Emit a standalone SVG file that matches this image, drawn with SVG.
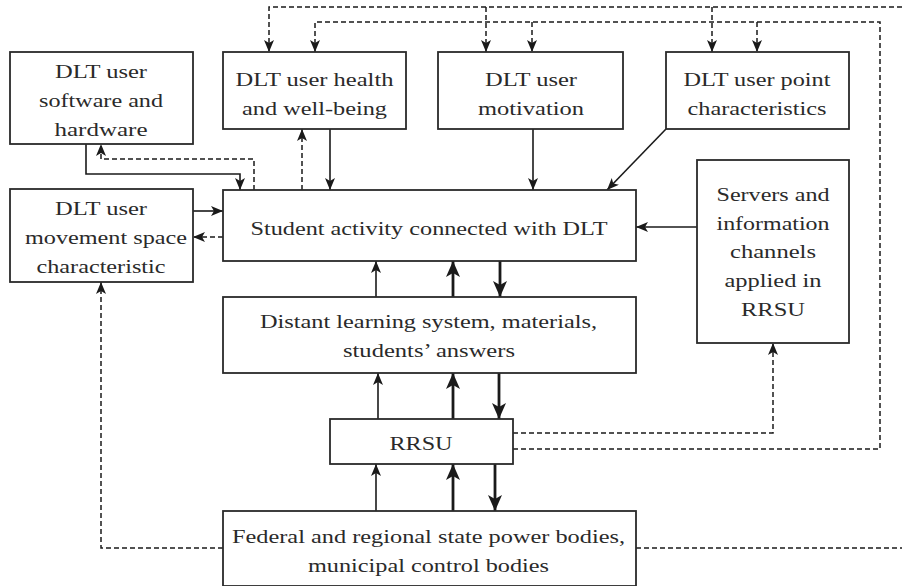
<svg xmlns="http://www.w3.org/2000/svg" width="902" height="586" viewBox="0 0 902 586">
<style>
.box{fill:#fff;stroke:#2a2a2a;stroke-width:1.8}
.t{font-family:"Liberation Serif","Times New Roman",serif;font-size:19px;fill:#2a2a2a;text-anchor:middle}
.c{fill:none;stroke:#1a1a1a;stroke-width:1.6}
.k{fill:none;stroke:#1a1a1a;stroke-width:2.8}
.d{fill:none;stroke:#1a1a1a;stroke-width:1.5;stroke-dasharray:5,3}
</style>
<defs>
<marker id="a" markerUnits="userSpaceOnUse" markerWidth="14" markerHeight="12" refX="12" refY="5" orient="auto" viewBox="0 0 14 12"><path d="M0,0 L12,5 L0,10 L3,5 z" fill="#1a1a1a"/></marker>
<marker id="b" markerUnits="userSpaceOnUse" markerWidth="18" markerHeight="16" refX="16" refY="7" orient="auto" viewBox="0 0 18 16"><path d="M0,0 L16,7 L0,14 L4,7 z" fill="#1a1a1a"/></marker>
</defs>
<g id="connectors">
<path class="c" d="M86,144 V174 H240 V190" marker-end="url(#a)"/>
<path class="c" d="M330,129 V190" marker-end="url(#a)"/>
<path class="c" d="M533,129 V190" marker-end="url(#a)"/>
<path class="c" d="M666,129 L607,190" marker-end="url(#a)"/>
<path class="c" d="M697,227 H636" marker-end="url(#a)"/>
<path class="c" d="M193,211 H223" marker-end="url(#a)"/>
<path class="c" d="M376,297 V261" marker-end="url(#a)"/>
<path class="c" d="M378,419 V373" marker-end="url(#a)"/>
<path class="c" d="M376,511 V464" marker-end="url(#a)"/>
<path class="k" d="M453,297 V261" marker-end="url(#b)"/>
<path class="k" d="M500,261 V297" marker-end="url(#b)"/>
<path class="k" d="M453,419 V373" marker-end="url(#b)"/>
<path class="k" d="M499,373 V419" marker-end="url(#b)"/>
<path class="k" d="M453,511 V464" marker-end="url(#b)"/>
<path class="k" d="M495,464 V511" marker-end="url(#b)"/>
<path class="d" d="M902,7 H269 V52" marker-end="url(#a)"/>
<path class="d" d="M486,7 V52" marker-end="url(#a)"/>
<path class="d" d="M712,7 V52" marker-end="url(#a)"/>
<path class="d" d="M513,449 H880 V22 H315 V52" marker-end="url(#a)"/>
<path class="d" d="M532,22 V52" marker-end="url(#a)"/>
<path class="d" d="M757,22 V52" marker-end="url(#a)"/>
<path class="d" d="M513,433 H773 V343" marker-end="url(#a)"/>
<path class="d" d="M223,548 H101 V282" marker-end="url(#a)"/>
<path class="d" d="M636,548 H902"/>
<path class="d" d="M254,190 V159 H101 V144" marker-end="url(#a)"/>
<path class="d" d="M302,190 V129" marker-end="url(#a)"/>
<path class="d" d="M223,237 H193" marker-end="url(#a)"/>
</g>
<g id="software">
<rect class="box" x="10" y="52" width="183" height="92"/>
<text class="t" x="101" y="78" textLength="92" lengthAdjust="spacingAndGlyphs">DLT user</text>
<text class="t" x="101" y="107" textLength="124" lengthAdjust="spacingAndGlyphs">software and</text>
<text class="t" x="101" y="136" textLength="93" lengthAdjust="spacingAndGlyphs">hardware</text>
</g>
<g id="health">
<rect class="box" x="223" y="52" width="183" height="77"/>
<text class="t" x="314.5" y="86" textLength="158" lengthAdjust="spacingAndGlyphs">DLT user health</text>
<text class="t" x="314.5" y="115" textLength="145" lengthAdjust="spacingAndGlyphs">and well-being</text>
</g>
<g id="motivation">
<rect class="box" x="438" y="52" width="185" height="77"/>
<text class="t" x="531" y="86" textLength="92" lengthAdjust="spacingAndGlyphs">DLT user</text>
<text class="t" x="531" y="115" textLength="106" lengthAdjust="spacingAndGlyphs">motivation</text>
</g>
<g id="point">
<rect class="box" x="666" y="52" width="183" height="77"/>
<text class="t" x="757" y="86" textLength="147" lengthAdjust="spacingAndGlyphs">DLT user point</text>
<text class="t" x="757" y="115" textLength="139" lengthAdjust="spacingAndGlyphs">characteristics</text>
</g>
<g id="movement">
<rect class="box" x="10" y="189" width="183" height="93"/>
<text class="t" x="101" y="215" textLength="92" lengthAdjust="spacingAndGlyphs">DLT user</text>
<text class="t" x="106" y="244" textLength="162" lengthAdjust="spacingAndGlyphs">movement space</text>
<text class="t" x="101" y="273" textLength="129" lengthAdjust="spacingAndGlyphs">characteristic</text>
</g>
<g id="student">
<rect class="box" x="223" y="190" width="413" height="71"/>
<text class="t" x="429" y="235" textLength="357" lengthAdjust="spacingAndGlyphs">Student activity connected with DLT</text>
</g>
<g id="servers">
<rect class="box" x="697" y="160" width="152" height="183"/>
<text class="t" x="773" y="201" textLength="113" lengthAdjust="spacingAndGlyphs">Servers and</text>
<text class="t" x="773" y="230" textLength="113" lengthAdjust="spacingAndGlyphs">information</text>
<text class="t" x="773" y="258" textLength="86" lengthAdjust="spacingAndGlyphs">channels</text>
<text class="t" x="773" y="287" textLength="97" lengthAdjust="spacingAndGlyphs">applied in</text>
<text class="t" x="773" y="316" textLength="64" lengthAdjust="spacingAndGlyphs">RRSU</text>
</g>
<g id="distant">
<rect class="box" x="223" y="297" width="413" height="76"/>
<text class="t" x="428.5" y="328" textLength="337" lengthAdjust="spacingAndGlyphs">Distant learning system, materials,</text>
<text class="t" x="429" y="357" textLength="172" lengthAdjust="spacingAndGlyphs">students’ answers</text>
</g>
<g id="rrsu">
<rect class="box" x="330" y="419" width="183" height="45"/>
<text class="t" x="421" y="450" textLength="63" lengthAdjust="spacingAndGlyphs">RRSU</text>
</g>
<g id="federal">
<rect class="box" x="223" y="511" width="413" height="75"/>
<text class="t" x="428.5" y="543" textLength="393" lengthAdjust="spacingAndGlyphs">Federal and regional state power bodies,</text>
<text class="t" x="428.5" y="572" textLength="241" lengthAdjust="spacingAndGlyphs">municipal control bodies</text>
</g>
</svg>
